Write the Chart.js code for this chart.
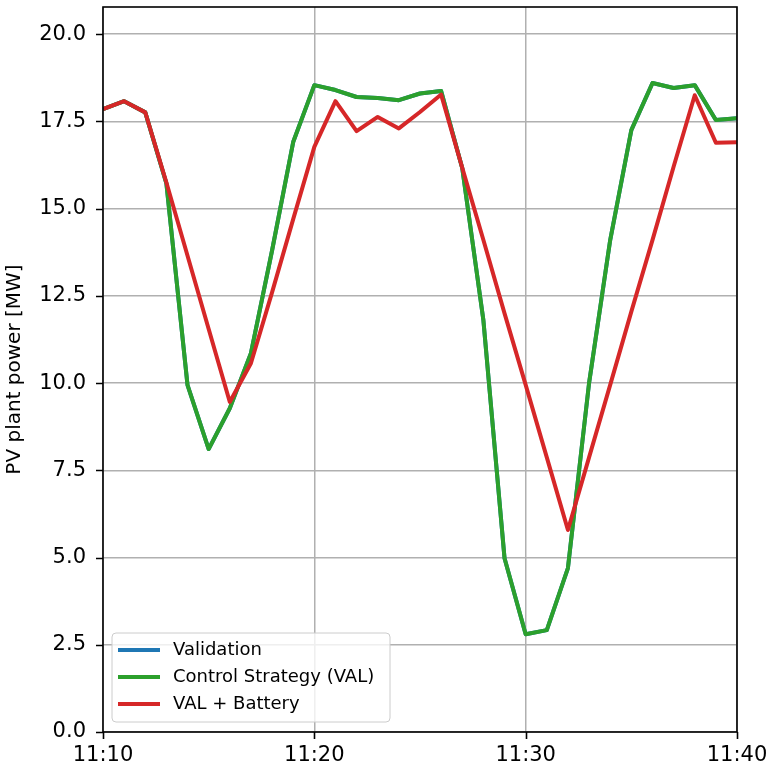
<!DOCTYPE html>
<html>
<head>
<meta charset="utf-8">
<script src="https://cdn.jsdelivr.net/npm/chart.js@4/dist/chart.umd.min.js"></script>
<style>
  body { margin: 0; background: #fff; }
  #wrap { width: 773px; height: 770px; }
</style>
</head>
<body>
<div id="wrap"><canvas id="grafica" width="773" height="770"></canvas></div>
<script>
// datos (un punto por minuto)
const tiempos = ['11:10','11:11','11:12','11:13','11:14','11:15','11:16','11:17','11:18','11:19',
                 '11:20','11:21','11:22','11:23','11:24','11:25','11:26','11:27','11:28','11:29',
                 '11:30','11:31','11:32','11:33','11:34','11:35','11:36','11:37','11:38','11:39','11:40'];

const validacion = [17.85, 18.08, 17.76, 15.72, 9.94, 8.11, 9.28, 10.86, 13.8, 16.91,
                    18.54, 18.4, 18.2, 18.17, 18.11, 18.3, 18.37, 16.16, 11.8, 4.98,
                    2.8, 2.92, 4.7, 10.0, 14.1, 17.25, 18.6, 18.46, 18.54, 17.54, 17.59];

const estrategia = [17.85, 18.08, 17.76, 15.72, 9.94, 8.11, 9.28, 10.86, 13.8, 16.91,
                    18.54, 18.4, 18.2, 18.17, 18.11, 18.3, 18.37, 16.16, 11.8, 4.98,
                    2.8, 2.92, 4.7, 10.0, 14.1, 17.25, 18.6, 18.46, 18.54, 17.54, 17.59];

const conBateria = [17.85, 18.08, 17.76, 15.75, 13.65, 11.55, 9.46, 10.57, 12.6, 14.7,
                    16.77, 18.08, 17.22, 17.63, 17.3, 17.77, 18.27, 16.17, 14.1, 12.0,
                    9.95, 7.87, 5.79, 7.87, 9.95, 12.05, 14.1, 16.2, 18.25, 16.89, 16.9];

const ticksX = ['11:10', '11:20', '11:30', '11:40'];
const ticksY = [0, 2.5, 5, 7.5, 10, 12.5, 15, 17.5, 20];

// minutos desde 11:10
const aMinutos = t => {
    const [h, m] = t.split(':').map(Number);
    return h * 60 + m - (11 * 60 + 10);
};
const serie = vals => vals.map((v, i) => ({ x: aMinutos(tiempos[i]), y: v }));

// marco, ticks y leyenda al estilo matplotlib
const marcoYLeyenda = {
    id: 'marcoYLeyenda',
    afterDatasetsDraw(chart) {
        const { ctx, chartArea: a, scales } = chart;
        ctx.save();
        ctx.strokeStyle = '#000';
        ctx.lineWidth = 1.6;
        // ticks
        ctx.beginPath();
        scales.y.ticks.forEach(t => {
            const y = Math.round(scales.y.getPixelForValue(t.value)) + 0.5;
            ctx.moveTo(a.left - 7, y); ctx.lineTo(a.left, y);
        });
        scales.x.ticks.forEach(t => {
            const x = Math.round(scales.x.getPixelForValue(t.value)) + 0.5;
            ctx.moveTo(x, a.bottom); ctx.lineTo(x, a.bottom + 7);
        });
        ctx.stroke();
        ctx.strokeRect(a.left, a.top, a.right - a.left, a.bottom - a.top);

        // leyenda
        const bx = a.left + 9, by = a.bottom - 99, bw = 278, bh = 89;
        ctx.fillStyle = 'rgba(255,255,255,0.8)';
        ctx.strokeStyle = '#cccccc';
        ctx.lineWidth = 1;
        ctx.beginPath();
        ctx.roundRect(bx, by, bw, bh, 4);
        ctx.fill();
        ctx.stroke();
        ctx.font = '18px "DejaVu Sans"';
        ctx.textBaseline = 'middle';
        chart.data.datasets.forEach((ds, i) => {
            const y = by + 17 + i * 27;
            ctx.strokeStyle = ds.borderColor;
            ctx.lineWidth = 4;
            ctx.beginPath();
            ctx.moveTo(bx + 6, y); ctx.lineTo(bx + 48, y);
            ctx.stroke();
            ctx.fillStyle = '#000';
            ctx.fillText(ds.label, bx + 61, y);
        });
        ctx.restore();
    }
};

const fuenteTicks = { family: 'DejaVu Sans', size: 21 };

new Chart(document.getElementById('grafica'), {
    type: 'line',
    data: {
        datasets: [
            { label: 'Validation', data: serie(validacion), borderColor: '#1f77b4', order: 3 },
            { label: 'Control Strategy (VAL)', data: serie(estrategia), borderColor: '#2ca02c', order: 2 },
            { label: 'VAL + Battery', data: serie(conBateria), borderColor: '#d62728', order: 1 }
        ]
    },
    options: {
        responsive: false,
        animation: false,
        layout: { padding: { top: 7, right: 36, left: 0, bottom: 0 } },
        elements: {
            line: { borderWidth: 4, tension: 0, borderJoinStyle: 'round', borderCapStyle: 'butt' },
            point: { radius: 0 }
        },
        plugins: { legend: { display: false }, tooltip: { enabled: false } },
        scales: {
            x: {
                type: 'linear',
                min: 0, max: 30,
                afterBuildTicks: s => { s.ticks = ticksX.map(t => ({ value: aMinutos(t) })); },
                afterFit: s => { s.height = 38; s.paddingLeft = 0; s.paddingRight = 0; },
                ticks: {
                    font: fuenteTicks, color: '#000', padding: 11, maxRotation: 0,
                    callback: v => ticksX.find(t => aMinutos(t) === v)
                },
                grid: { color: '#b0b0b0', lineWidth: 1.5, drawTicks: false },
                border: { display: false }
            },
            y: {
                min: 0, max: 20.78,
                afterBuildTicks: s => { s.ticks = ticksY.map(v => ({ value: v })); },
                afterFit: s => { s.width = 103; s.paddingTop = 0; s.paddingBottom = 0; },
                ticks: {
                    font: fuenteTicks, color: '#000', padding: 17,
                    callback: v => v.toFixed(1)
                },
                grid: { color: '#b0b0b0', lineWidth: 1.5, drawTicks: false },
                border: { display: false },
                title: {
                    display: true, text: 'PV plant power [MW]', color: '#000',
                    font: { family: 'DejaVu Sans', size: 20 }, padding: { top: 3, bottom: 0 }
                }
            }
        }
    },
    plugins: [marcoYLeyenda]
});
</script>
</body>
</html>
